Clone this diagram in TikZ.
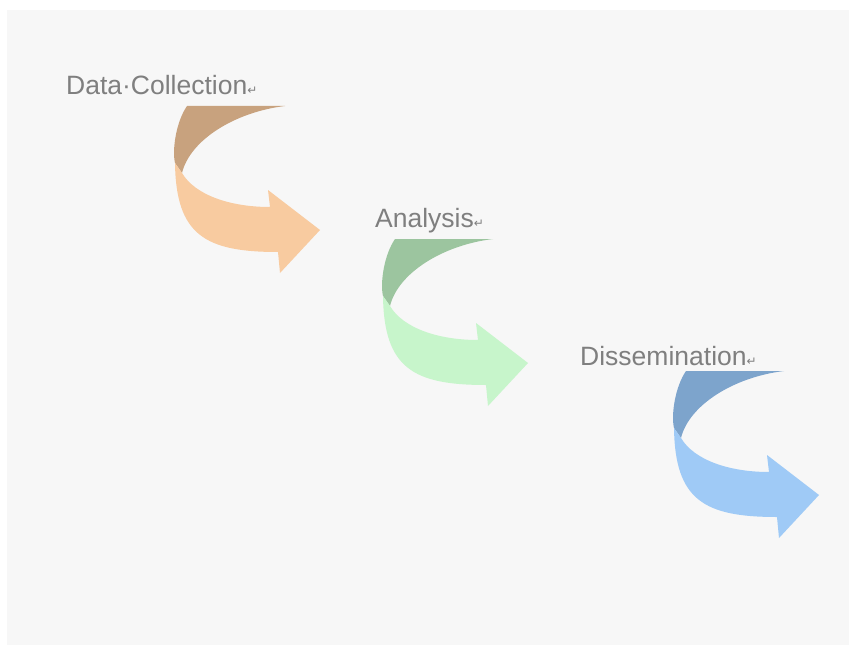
\documentclass[tikz,border=0pt]{standalone}
\usepackage{fontspec}
\setmainfont{Liberation Sans}
\newfontfamily\marksfont{DejaVu Sans}
\definecolor{bggray}{HTML}{F7F7F7}
\definecolor{labelgray}{HTML}{7F7F7F}
\definecolor{orangefront}{HTML}{F8CBA0}
\definecolor{orangeback}{HTML}{C8A27E}
\definecolor{greenfront}{HTML}{C7F5CB}
\definecolor{greenback}{HTML}{9CC59F}
\definecolor{bluefront}{HTML}{9FCAF6}
\definecolor{blueback}{HTML}{7DA4CC}
\newcommand{\retmark}{{\marksfont\fontsize{12}{12}\selectfont ↵}}
\tikzset{
  steplabel/.style={anchor=base west, inner sep=0pt, text=labelgray,
    font=\fontsize{26.5}{30}\selectfont},
  pics/curvedarrow/.style 2 args={code={
    % back band
    \fill[#2] (187,106) -- (285,106) .. controls (235,112) and (190,140) .. (182,173)
      -- (175,163) .. controls (172,150) and (176,122) .. (187,106) -- cycle;
    % front band with head
    \fill[#1] (175,163) -- (182,173) .. controls (195,195) and (230,207) .. (270,207)
      -- (268,190) -- (320,230) -- (280,273) -- (278,252)
      .. controls (205,252) and (176,235) .. (175,163) -- cycle;
  }}
}
\begin{document}
\begin{tikzpicture}[x=1pt,y=-1pt]
	\useasboundingbox (0,0) rectangle (856,650);
	\fill[white] (0,0) rectangle (856,650);
	\fill[bggray] (7,10) rectangle (849,645);

	\pic at (0,0) {curvedarrow={orangefront}{orangeback}};
	\pic at (208,133) {curvedarrow={greenfront}{greenback}};
	\pic at (499,265) {curvedarrow={bluefront}{blueback}};

	\node[steplabel] (datacollection) at (66,95) {Data·Collection\retmark};
	\node[steplabel] (analysis) at (375,227) {Analysis\retmark};
	\node[steplabel] (dissemination) at (580,365) {Dissemination\retmark};
\end{tikzpicture}
\end{document}
